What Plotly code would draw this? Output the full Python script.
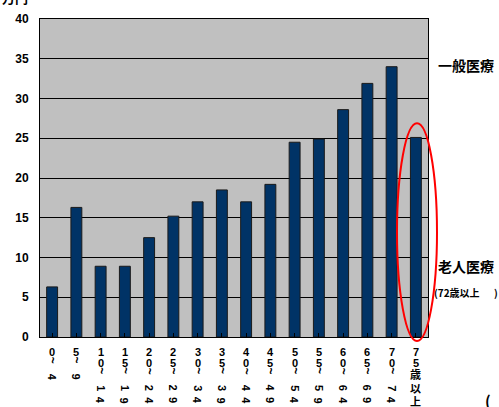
import plotly.graph_objects as go

# Age bands (start~end) and per-capita medical cost (万円)
age_groups = ["0~4", "5~9", "10~14", "15~19", "20~24", "25~29", "30~34", "35~39",
              "40~44", "45~49", "50~54", "55~59", "60~64", "65~69", "70~74", "75歳以上"]
cost = [6.3, 16.3, 8.9, 8.9, 12.5, 15.2, 17.0, 18.5,
        17.0, 19.2, 24.5, 24.9, 28.6, 31.9, 34.0, 25.1]
y_ticks = [0, 5, 10, 15, 20, 25, 30, 35, 40]

W, H = 499, 407
L, R, T, B = 40, 71, 17, 70
PW, PH = W - L - R, H - T - B
AXIS_Y = T + PH  # pixel row of the x axis


def px_x(p):
    return (p - L) / PW


def px_y(p):
    return (AXIS_Y - p) / PH


LATIN = "Liberation Sans, Arial, sans-serif"
CJK = "Noto Sans CJK JP, sans-serif"

fig = go.Figure(
    go.Bar(
        x=list(range(len(age_groups))),
        y=cost,
        width=0.45,
        marker=dict(color="#003366", line=dict(color="#1a1a1a", width=1)),
    )
)

annotations = []


def char_ann(i, ch, py, angle=0, size=11, font=LATIN):
    annotations.append(dict(
        x=i, xref="x", y=0, yref="paper", yshift=AXIS_Y - py,
        text=ch, showarrow=False, textangle=angle,
        xanchor="center", yanchor="middle",
        font=dict(family=font, size=size, color="black", weight="bold"),
    ))


# Vertical category labels: start digits upright, "~" and end digits turned sideways
for i, lab in enumerate(age_groups):
    if "~" in lab:
        start, end = lab.split("~")
    else:
        start, end = lab[:2], None
    py = 352
    for ch in start:
        char_ann(i, ch, py)
        last = py
        py += 11
    if end is not None:
        py = last + 8
        char_ann(i, "~", py, angle=90, size=12)
        py += 17
        for ch in end:
            char_ann(i, ch, py, angle=90)
            py += 12.5
    else:
        py = last + 11
        for ch in lab[2:]:
            char_ann(i, ch, py, size=11, font=CJK)
            py += 13.5

# Unit and side labels
side = [
    ("万円", 0, -5, "left", 13),
    ("一般医療", 466, 63, "center", 14),
    ("老人医療", 466, 266, "center", 14),
    ("(72歳以上", 457, 292, "center", 10),
    (")", 496, 292, "center", 10),
    ("(", 488, 401, "center", 15),
]
for txt, x, y, anchor, size in side:
    annotations.append(dict(
        x=px_x(x), xref="paper", y=px_y(y), yref="paper",
        text=txt, showarrow=False, xanchor=anchor, yanchor="middle",
        font=dict(family=CJK, size=size, color="black", weight="bold"),
    ))

fig.update_layout(
    width=W, height=H,
    margin=dict(l=L, r=R, t=T, b=B),
    paper_bgcolor="white",
    plot_bgcolor="#c0c0c0",
    showlegend=False,
    bargap=0.55,
    annotations=annotations,
    shapes=[dict(
        type="circle", xref="paper", yref="paper",
        x0=px_x(397), x1=px_x(437), y0=px_y(341), y1=px_y(122),
        line=dict(color="#ff0000", width=2),
    )],
    xaxis=dict(
        range=[-0.5, len(age_groups) - 0.5],
        showticklabels=False,
        showgrid=False,
        ticks="inside", tickson="boundaries", ticklen=4, tickcolor="black",
        tickmode="array", tickvals=list(range(len(age_groups))),
        showline=True, linecolor="black", linewidth=1, mirror=True,
        zeroline=False,
    ),
    yaxis=dict(
        range=[0, 40],
        tickvals=y_ticks,
        tickfont=dict(family=LATIN, size=12, color="black", weight="bold"),
        ticklabelstandoff=8,
        showgrid=True, gridcolor="black", gridwidth=1,
        showline=True, linecolor="black", linewidth=1, mirror=True,
        zeroline=False,
    ),
)

fig.write_html("out.html")
